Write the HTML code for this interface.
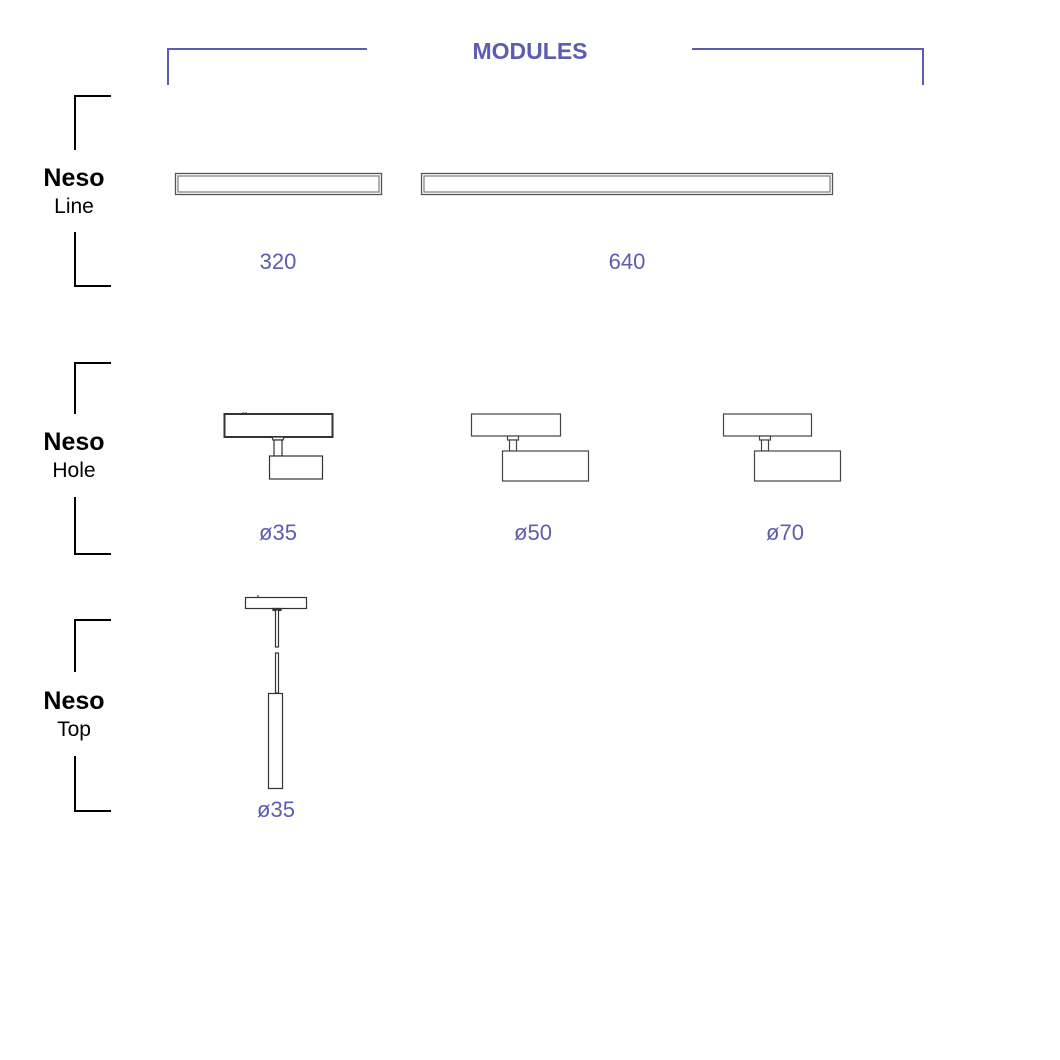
<!DOCTYPE html>
<html><head><meta charset="utf-8"><style>
html,body{margin:0;padding:0;background:#fff;}
svg{display:block;}
text{font-family:"Liberation Sans",Arial,sans-serif;}
</style></head><body>
<svg width="1060" height="1060" viewBox="0 0 1060 1060" xmlns="http://www.w3.org/2000/svg">
<rect width="1060" height="1060" fill="#fff"/>
<!-- MODULES bracket -->
<g stroke="#5c5cb2" stroke-width="2" fill="none">
<polyline points="168,85 168,49 367,49"/>
<polyline points="692,49 923,49 923,85"/>
</g>
<text x="530" y="59" text-anchor="middle" font-size="23" font-weight="bold" fill="#5c5cb2">MODULES</text>

<!-- left brackets -->
<g stroke="#000" stroke-width="2" fill="none">
<polyline points="111,96 75,96 75,150"/>
<polyline points="75,232 75,286 111,286"/>
<polyline points="111,363 75,363 75,414"/>
<polyline points="75,497 75,554 111,554"/>
<polyline points="111,620 75,620 75,672"/>
<polyline points="75,756 75,811 111,811"/>
</g>
<g fill="#000" text-anchor="middle">
<text x="74" y="186" font-size="25" font-weight="bold">Neso</text>
<text x="74" y="213" font-size="21">Line</text>
<text x="74" y="450" font-size="25" font-weight="bold">Neso</text>
<text x="74" y="477" font-size="21">Hole</text>
<text x="74" y="709" font-size="25" font-weight="bold">Neso</text>
<text x="74" y="736" font-size="21">Top</text>
</g>

<!-- Line modules -->
<g fill="none" stroke="#555" stroke-width="1.3">
<rect x="175.5" y="173.5" width="206" height="21"/>
<rect x="178" y="176" width="201" height="16" stroke="#888"/>
<rect x="421.5" y="173.5" width="411" height="21"/>
<rect x="424" y="176" width="406" height="16" stroke="#888"/>
</g>
<g fill="#5c5cb2" font-size="22" text-anchor="middle">
<text x="278" y="269">320</text>
<text x="627" y="269">640</text>
</g>

<!-- Hole ø35 -->
<g fill="#fff" stroke="#333" stroke-width="1.2">
<rect x="224.5" y="414" width="108" height="23" stroke-width="2"/>
<path d="M272,437 L284,437 L283,440 L273,440 Z"/>
<rect x="274" y="440" width="8" height="16"/>
<rect x="269.5" y="456" width="53" height="23"/>
</g>
<line x1="243" y1="412" x2="243" y2="414" stroke="#333"/>
<line x1="246" y1="412" x2="246" y2="414" stroke="#333"/>

<!-- Hole ø50 -->
<g fill="#fff" stroke="#444" stroke-width="1.2">
<rect x="471.5" y="414" width="89" height="22"/>
<rect x="507.5" y="436" width="11" height="4"/>
<rect x="509.5" y="440" width="7" height="11"/>
<rect x="502.5" y="451" width="86" height="30"/>
</g>
<!-- Hole ø70 -->
<g fill="#fff" stroke="#444" stroke-width="1.2">
<rect x="723.5" y="414" width="88" height="22"/>
<rect x="759.5" y="436" width="11" height="4"/>
<rect x="761.5" y="440" width="7" height="11"/>
<rect x="754.5" y="451" width="86" height="30"/>
</g>
<g fill="#5c5cb2" font-size="22" text-anchor="middle">
<text x="278" y="540">ø35</text>
<text x="533" y="540">ø50</text>
<text x="785" y="540">ø70</text>
</g>

<!-- Top pendant -->
<g fill="#fff" stroke="#333" stroke-width="1.2">
<rect x="245.5" y="597.5" width="61" height="11"/>
<rect x="273" y="608.5" width="8" height="2" fill="#333"/>
<rect x="275.5" y="610" width="3" height="37"/>
<rect x="275.5" y="653" width="3" height="40"/>
<rect x="268.5" y="693.5" width="14" height="95"/>
</g>
<line x1="257" y1="596" x2="259" y2="596" stroke="#333"/>
<text x="276" y="817" fill="#5c5cb2" font-size="22" text-anchor="middle">ø35</text>
</svg>
</body></html>
